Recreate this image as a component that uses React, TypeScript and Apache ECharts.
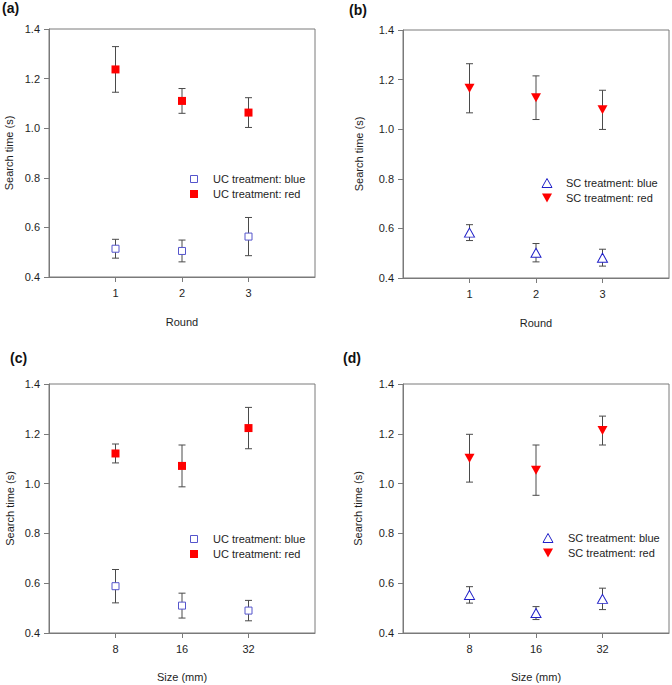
import React, { useEffect, useRef } from "react";
import * as echarts from "echarts";

// Categories / tick labels
const roundCats = ["1", "2", "3"];
const sizeCats = ["8", "16", "32"];
const yTicks = [0.4, 0.6, 0.8, 1.0, 1.2, 1.4];

// Panel (a): UC treatment by round
const aBlueMean = [0.514, 0.505, 0.563];
const aBlueErr = [0.038, 0.044, 0.077];
const aRedMean = [1.237, 1.11, 1.063];
const aRedErr = [0.092, 0.05, 0.06];

// Panel (b): SC treatment by round
const bBlueMean = [0.583, 0.502, 0.482];
const bBlueErr = [0.032, 0.037, 0.034];
const bRedMean = [1.165, 1.127, 1.078];
const bRedErr = [0.099, 0.088, 0.079];

// Panel (c): UC treatment by size
const cBlueMean = [0.588, 0.51, 0.49];
const cBlueErr = [0.067, 0.05, 0.041];
const cRedMean = [1.121, 1.071, 1.223];
const cRedErr = [0.038, 0.084, 0.083];

// Panel (d): SC treatment by size
const dBlueMean = [0.553, 0.48, 0.537];
const dBlueErr = [0.033, 0.026, 0.043];
const dRedMean = [1.102, 1.054, 1.213];
const dRedErr = [0.096, 0.101, 0.058];

const FONT = "Arial, 'Liberation Sans', sans-serif";
const AXIS = "#7a7a7a";
const TXT = "#1e1e1e";
const BAR = "#4a4a4a";
const RED = "#ff0000";
const BLUE_SQ = "#5555cc";
const BLUE_TRI = "#2020c8";

type Panel = {
  letter: string;
  cats: string[];
  xName: string;
  yGap: number;
  xGap: number;
  grid: { left: number; top: number; width: number; height: number };
  blueMean: number[];
  blueErr: number[];
  redMean: number[];
  redErr: number[];
  blueName: string;
  redName: string;
  tri: boolean;
  letterPos: [number, number];
  legendIcon: [number, number];
  legendText: number;
};

const panels: Panel[] = [
  {
    letter: "(a)", cats: roundCats, xName: "Round", yGap: 35, xGap: 39,
    grid: { left: 49, top: 29, width: 266, height: 248 },
    blueMean: aBlueMean, blueErr: aBlueErr, redMean: aRedMean, redErr: aRedErr,
    blueName: "UC treatment: blue", redName: "UC treatment: red", tri: false,
    letterPos: [2, 8], legendIcon: [194, 179], legendText: 213,
  },
  {
    letter: "(b)", cats: roundCats, xName: "Round", yGap: 39, xGap: 39,
    grid: { left: 403, top: 30, width: 266, height: 248 },
    blueMean: bBlueMean, blueErr: bBlueErr, redMean: bRedMean, redErr: bRedErr,
    blueName: "SC treatment: blue", redName: "SC treatment: red", tri: true,
    letterPos: [349, 10], legendIcon: [547, 183], legendText: 566,
  },
  {
    letter: "(c)", cats: sizeCats, xName: "Size (mm)", yGap: 34, xGap: 38,
    grid: { left: 49, top: 384, width: 266, height: 249 },
    blueMean: cBlueMean, blueErr: cBlueErr, redMean: cRedMean, redErr: cRedErr,
    blueName: "UC treatment: blue", redName: "UC treatment: red", tri: false,
    letterPos: [10, 358], legendIcon: [194, 539], legendText: 213,
  },
  {
    letter: "(d)", cats: sizeCats, xName: "Size (mm)", yGap: 40, xGap: 38,
    grid: { left: 403, top: 384, width: 266, height: 249 },
    blueMean: dBlueMean, blueErr: dBlueErr, redMean: dRedMean, redErr: dRedErr,
    blueName: "SC treatment: blue", redName: "SC treatment: red", tri: true,
    letterPos: [343, 358], legendIcon: [548, 538], legendText: 568,
  },
];

function errRender(params: any, api: any) {
  const x = api.value(0);
  const m = api.value(1);
  const e = api.value(2);
  const top = api.coord([x, m + e]);
  const bot = api.coord([x, m - e]);
  const hw = 3.5;
  const style = { stroke: BAR, lineWidth: 1 };
  return {
    type: "group",
    children: [
      { type: "line", shape: { x1: top[0], y1: top[1], x2: bot[0], y2: bot[1] }, style },
      { type: "line", shape: { x1: top[0] - hw, y1: top[1], x2: top[0] + hw, y2: top[1] }, style },
      { type: "line", shape: { x1: bot[0] - hw, y1: bot[1], x2: bot[0] + hw, y2: bot[1] }, style },
    ],
  };
}

function buildOption() {
  const grid: any[] = [];
  const xAxis: any[] = [];
  const yAxis: any[] = [];
  const series: any[] = [];
  const graphic: any[] = [];

  panels.forEach((p, i) => {
    grid.push({ ...p.grid, show: true, borderColor: AXIS, borderWidth: 1, backgroundColor: "transparent" });
    const cats = p.cats;
    xAxis.push({
      type: "value", gridIndex: i, min: 0, max: 4, interval: 1,
      name: p.xName, nameLocation: "middle", nameGap: p.xGap,
      nameTextStyle: { fontFamily: FONT, fontSize: 11, color: TXT },
      axisLine: { show: true, onZero: false, lineStyle: { color: AXIS, width: 1 } },
      axisTick: { show: true, length: 5, customValues: [1, 2, 3], lineStyle: { color: AXIS } },
      axisLabel: {
        customValues: [1, 2, 3], margin: 10, fontFamily: FONT, fontSize: 11, color: TXT,
        formatter: (v: number) => cats[Math.round(v) - 1] ?? "",
      },
      splitLine: { show: false },
    });
    yAxis.push({
      type: "value", gridIndex: i, min: 0.4, max: 1.4, interval: 0.2,
      name: "Search time (s)", nameLocation: "middle", nameGap: p.yGap,
      nameTextStyle: { fontFamily: FONT, fontSize: 11, color: TXT },
      axisLine: { show: true, onZero: false, lineStyle: { color: AXIS, width: 1 } },
      axisTick: { show: true, length: 5, lineStyle: { color: AXIS } },
      axisLabel: {
        margin: 9, fontFamily: FONT, fontSize: 11, color: TXT,
        formatter: (v: number) => v.toFixed(1),
      },
      splitLine: { show: false },
    });

    const blueData = p.blueMean.map((m, k) => [k + 1, m, p.blueErr[k]]);
    const redData = p.redMean.map((m, k) => [k + 1, m, p.redErr[k]]);

    series.push({
      type: "custom", xAxisIndex: i, yAxisIndex: i, renderItem: errRender,
      data: blueData, encode: { x: 0, y: 1 }, z: 1, silent: true,
    });
    series.push({
      type: "custom", xAxisIndex: i, yAxisIndex: i, renderItem: errRender,
      data: redData, encode: { x: 0, y: 1 }, z: 1, silent: true,
    });
    series.push({
      type: "scatter", name: p.blueName, xAxisIndex: i, yAxisIndex: i, z: 3,
      data: blueData.map((d) => [d[0], d[1]]),
      symbol: p.tri ? "triangle" : "rect",
      symbolSize: p.tri ? [10, 9] : 7,
      itemStyle: { color: "#ffffff", borderColor: p.tri ? BLUE_TRI : BLUE_SQ, borderWidth: 1, opacity: 1 },
    });
    series.push({
      type: "scatter", name: p.redName, xAxisIndex: i, yAxisIndex: i, z: 3,
      data: redData.map((d) => [d[0], d[1]]),
      symbol: p.tri ? "triangle" : "rect",
      symbolRotate: p.tri ? 180 : 0,
      symbolSize: p.tri ? [10, 9] : 8,
      itemStyle: { color: RED, opacity: 1 },
    });

    // panel letter
    graphic.push({
      type: "text", left: p.letterPos[0], top: p.letterPos[1] - 7,
      style: { text: p.letter, font: `bold 14px ${FONT}`, fill: "#111" },
    });

    // legend
    const [ix, iy] = p.legendIcon;
    const rowGap = 15;
    if (p.tri) {
      graphic.push({
        type: "polygon",
        shape: { points: [[ix, iy - 4.5], [ix + 5, iy + 4.5], [ix - 5, iy + 4.5]] },
        style: { fill: "#fff", stroke: BLUE_TRI, lineWidth: 1 },
      });
      graphic.push({
        type: "polygon",
        shape: { points: [[ix - 5, iy + rowGap - 4.5], [ix + 5, iy + rowGap - 4.5], [ix, iy + rowGap + 4.5]] },
        style: { fill: RED },
      });
    } else {
      graphic.push({
        type: "rect", shape: { x: ix - 3.5, y: iy - 3.5, width: 7, height: 7 },
        style: { fill: "#fff", stroke: BLUE_SQ, lineWidth: 1 },
      });
      graphic.push({
        type: "rect", shape: { x: ix - 4, y: iy + rowGap - 4, width: 8, height: 8 },
        style: { fill: RED },
      });
    }
    graphic.push({
      type: "text", x: p.legendText, y: iy,
      style: { text: p.blueName, font: `11px ${FONT}`, fill: TXT, textVerticalAlign: "middle", verticalAlign: "middle" },
    });
    graphic.push({
      type: "text", x: p.legendText, y: iy + rowGap,
      style: { text: p.redName, font: `11px ${FONT}`, fill: TXT, textVerticalAlign: "middle", verticalAlign: "middle" },
    });
  });

  return {
    animation: false,
    backgroundColor: "#ffffff",
    textStyle: { fontFamily: FONT },
    grid, xAxis, yAxis, series, graphic,
  };
}

export default function App() {
  const ref = useRef<HTMLDivElement>(null);
  useEffect(() => {
    document.body.style.margin = "0";
    if (!ref.current) return;
    const chart = echarts.init(ref.current, undefined, { renderer: "svg" });
    chart.setOption(buildOption() as any);
    return () => chart.dispose();
  }, []);
  return <div ref={ref} style={{ width: 672, height: 685 }} />;
}
